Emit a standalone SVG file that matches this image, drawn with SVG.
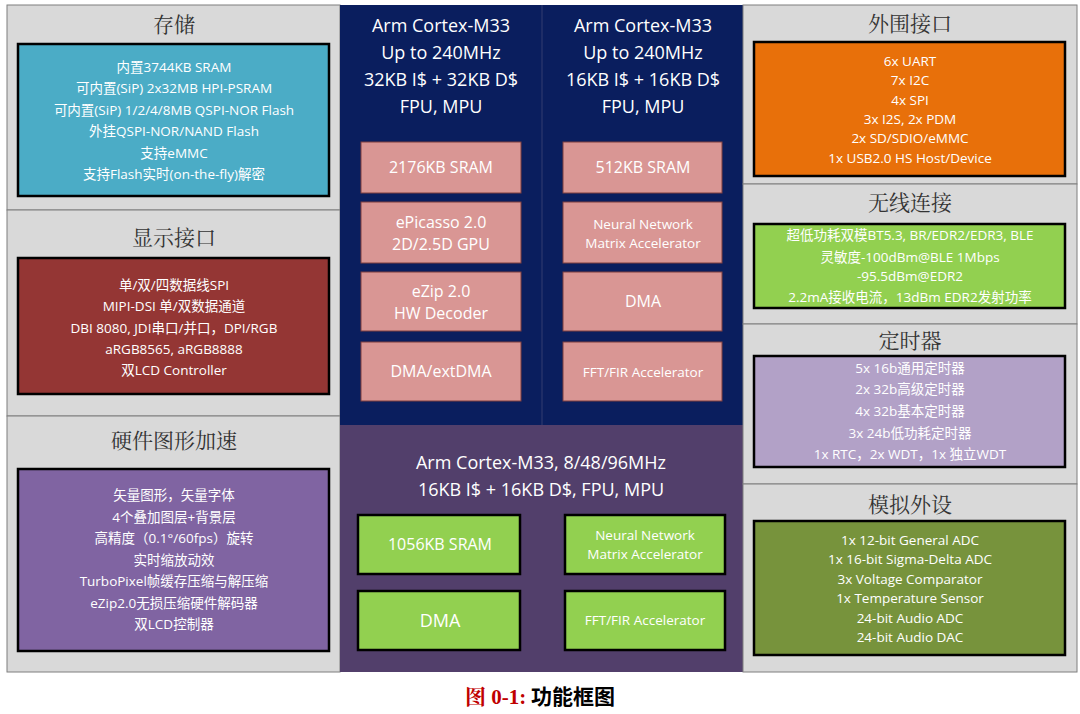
<svg xmlns="http://www.w3.org/2000/svg" width="1080" height="714" viewBox="0 0 1080 714">
<style>
.panel{fill:#D9D9D9;stroke:#7F7F7F;stroke-width:1}
.box{stroke:#000;stroke-width:2.5}
.hd{font-family:"Noto Serif CJK SC","Noto Sans CJK SC",serif;font-size:21px;fill:#333;text-anchor:middle}
.t{font-family:"Open Sans","Noto Sans CJK SC",sans-serif;font-size:13.5px;fill:#fff;text-anchor:middle}
.c{font-family:"Open Sans","Noto Sans CJK SC",sans-serif;font-size:18px;fill:#fff;text-anchor:middle}
.s{fill:#D99694;stroke:#7F3F3F;stroke-width:1}
.g{fill:#92D050;stroke:#000;stroke-width:2.5}
.st{font-family:"Open Sans",sans-serif;font-size:16px;fill:#fff;text-anchor:middle}
.ss{font-family:"Open Sans",sans-serif;font-size:13.5px;fill:#fff;text-anchor:middle}
</style>
<rect width="1080" height="714" fill="#fff"/>
<g id="storage">
<rect class="panel" x="7" y="5" width="333" height="205"/>
<text class="hd" x="174" y="32">存储</text>
<rect class="box" x="18" y="44" width="311" height="152" fill="#4BACC6"/>
<text class="t" x="174" y="72">内置3744KB SRAM</text>
<text class="t" x="174" y="93">可内置(SiP) 2x32MB HPI-PSRAM</text>
<text class="t" x="174" y="115">可内置(SiP) 1/2/4/8MB QSPI-NOR Flash</text>
<text class="t" x="174" y="136">外挂QSPI-NOR/NAND Flash</text>
<text class="t" x="174" y="158">支持eMMC</text>
<text class="t" x="174" y="179">支持Flash实时(on-the-fly)解密</text>
</g>
<g id="display">
<rect class="panel" x="7" y="210" width="333" height="206"/>
<text class="hd" x="174" y="245">显示接口</text>
<rect class="box" x="18" y="258" width="311" height="136" fill="#943634"/>
<text class="t" x="174" y="290">单/双/四数据线SPI</text>
<text class="t" x="174" y="311">MIPI-DSI 单/双数据通道</text>
<text class="t" x="174" y="333">DBI 8080, JDI串口/并口，DPI/RGB</text>
<text class="t" x="174" y="354">aRGB8565, aRGB8888</text>
<text class="t" x="174" y="375">双LCD Controller</text>
</g>
<g id="graphics">
<rect class="panel" x="7" y="416" width="333" height="256"/>
<text class="hd" x="174" y="448">硬件图形加速</text>
<rect class="box" x="18" y="469" width="311" height="182" fill="#8064A2"/>
<text class="t" x="174" y="500">矢量图形，矢量字体</text>
<text class="t" x="174" y="522">4个叠加图层+背景层</text>
<text class="t" x="174" y="543">高精度（0.1°/60fps）旋转</text>
<text class="t" x="174" y="565">实时缩放动效</text>
<text class="t" x="174" y="586">TurboPixel帧缓存压缩与解压缩</text>
<text class="t" x="174" y="608">eZip2.0无损压缩硬件解码器</text>
<text class="t" x="174" y="629">双LCD控制器</text>
</g>
<g id="core1">
<rect x="340" y="5" width="202" height="420" fill="#0A1E5E"/>
<text class="c" x="441" y="32">Arm Cortex-M33</text>
<text class="c" x="441" y="59">Up to 240MHz</text>
<text class="c" x="441" y="86">32KB I$ + 32KB D$</text>
<text class="c" x="441" y="113">FPU, MPU</text>
<rect class="s" x="361" y="142" width="160" height="51"/>
<text class="st" x="441" y="173">2176KB SRAM</text>
<rect class="s" x="361" y="202" width="160" height="61"/>
<text class="st" x="441" y="228">ePicasso 2.0</text>
<text class="st" x="441" y="250">2D/2.5D GPU</text>
<rect class="s" x="361" y="272" width="160" height="59"/>
<text class="st" x="441" y="297">eZip 2.0</text>
<text class="st" x="441" y="319">HW Decoder</text>
<rect class="s" x="361" y="342" width="160" height="59"/>
<text class="st" x="441" y="377">DMA/extDMA</text>
</g>
<g id="core2">
<rect x="542" y="5" width="201" height="420" fill="#0A1E5E"/>
<line x1="542" y1="5" x2="542" y2="425" stroke="#26336B" stroke-width="1.5"/>
<text class="c" x="643" y="32">Arm Cortex-M33</text>
<text class="c" x="643" y="59">Up to 240MHz</text>
<text class="c" x="643" y="86">16KB I$ + 16KB D$</text>
<text class="c" x="643" y="113">FPU, MPU</text>
<rect class="s" x="563" y="142" width="159" height="51"/>
<text class="st" x="643" y="173">512KB SRAM</text>
<rect class="s" x="563" y="202" width="159" height="61"/>
<text class="ss" x="643" y="229">Neural Network</text>
<text class="ss" x="643" y="248">Matrix Accelerator</text>
<rect class="s" x="563" y="272" width="159" height="59"/>
<text class="st" x="643" y="307">DMA</text>
<rect class="s" x="563" y="342" width="159" height="59"/>
<text class="ss" x="643" y="377">FFT/FIR Accelerator</text>
</g>
<g id="core3">
<rect x="340" y="425" width="403" height="247" fill="#523F6B"/>
<text class="c" x="541" y="469">Arm Cortex-M33, 8/48/96MHz</text>
<text class="c" x="541" y="496">16KB I$ + 16KB D$, FPU, MPU</text>
<rect class="g" x="358" y="515" width="162" height="59"/>
<text class="st" x="440" y="550">1056KB SRAM</text>
<rect class="g" x="565" y="515" width="160" height="59"/>
<text class="ss" x="645" y="540">Neural Network</text>
<text class="ss" x="645" y="559">Matrix Accelerator</text>
<rect class="g" x="358" y="591" width="162" height="59"/>
<text class="c" x="440" y="627">DMA</text>
<rect class="g" x="565" y="591" width="160" height="59"/>
<text class="ss" x="645" y="625">FFT/FIR Accelerator</text>
</g>
<g id="periph">
<rect class="panel" x="743" y="5" width="334" height="179"/>
<text class="hd" x="910" y="31">外围接口</text>
<rect class="box" x="754" y="42" width="311" height="134" fill="#E8700A"/>
<text class="t" x="910" y="66">6x UART</text>
<text class="t" x="910" y="85">7x I2C</text>
<text class="t" x="910" y="105">4x SPI</text>
<text class="t" x="910" y="124">3x I2S, 2x PDM</text>
<text class="t" x="910" y="143">2x SD/SDIO/eMMC</text>
<text class="t" x="910" y="163">1x USB2.0 HS Host/Device</text>
</g>
<g id="wireless">
<rect class="panel" x="743" y="184" width="334" height="140"/>
<text class="hd" x="910" y="210">无线连接</text>
<rect class="box" x="754" y="224" width="311" height="84" fill="#92D050"/>
<text class="t" x="910" y="240">超低功耗双模BT5.3, BR/EDR2/EDR3, BLE</text>
<text class="t" x="910" y="262">灵敏度-100dBm@BLE 1Mbps</text>
<text class="t" x="910" y="281">-95.5dBm@EDR2</text>
<text class="t" x="910" y="302">2.2mA接收电流，13dBm EDR2发射功率</text>
</g>
<g id="timer">
<rect class="panel" x="743" y="324" width="334" height="160"/>
<text class="hd" x="910" y="348">定时器</text>
<rect class="box" x="754" y="356" width="311" height="111" fill="#B2A1C7"/>
<text class="t" x="910" y="373">5x 16b通用定时器</text>
<text class="t" x="910" y="394">2x 32b高级定时器</text>
<text class="t" x="910" y="416">4x 32b基本定时器</text>
<text class="t" x="910" y="438">3x 24b低功耗定时器</text>
<text class="t" x="910" y="459">1x RTC，2x WDT，1x 独立WDT</text>
</g>
<g id="analog">
<rect class="panel" x="743" y="484" width="334" height="188"/>
<text class="hd" x="910" y="512">模拟外设</text>
<rect class="box" x="754" y="521" width="311" height="134" fill="#77933C"/>
<text class="t" x="910" y="545">1x 12-bit General ADC</text>
<text class="t" x="910" y="564">1x 16-bit Sigma-Delta ADC</text>
<text class="t" x="910" y="584">3x Voltage Comparator</text>
<text class="t" x="910" y="603">1x Temperature Sensor</text>
<text class="t" x="910" y="623">24-bit Audio ADC</text>
<text class="t" x="910" y="642">24-bit Audio DAC</text>
</g>
<g id="connectors"></g>
<text x="540" y="704" text-anchor="middle" font-family="'Liberation Serif','Noto Serif CJK SC',serif" font-size="21" font-weight="bold"><tspan fill="#C00000">图 0-1:</tspan><tspan fill="#000" font-family="'Noto Sans CJK SC',sans-serif"> 功能框图</tspan></text>
</svg>
